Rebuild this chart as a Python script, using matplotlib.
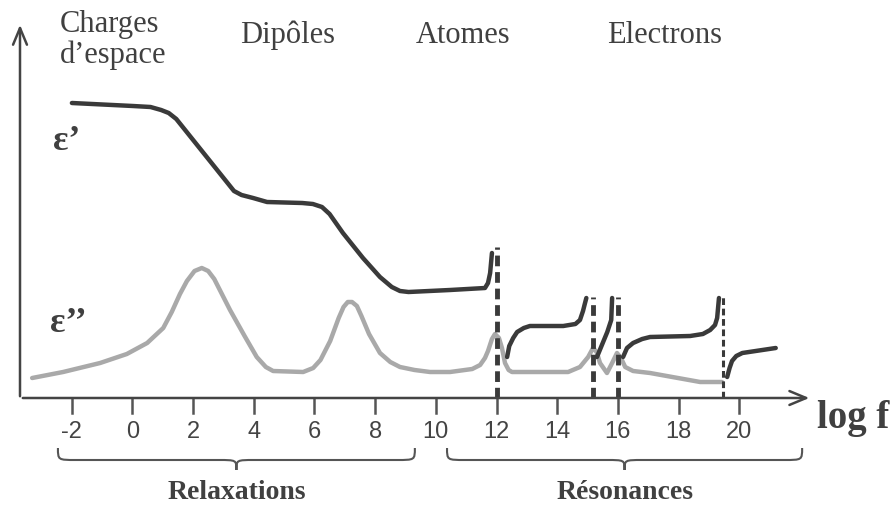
import numpy as np
import matplotlib
matplotlib.use("Agg")
import matplotlib.pyplot as plt
from matplotlib.path import Path
from matplotlib.patches import PathPatch

# eps' (real part), one list per branch
eps1_x = [-1.99, 0.02, 0.6, 0.95, 1.2, 1.45, 3.35, 3.6, 3.98, 4.44, 5.6, 5.95, 6.25, 6.5, 6.94, 7.60,
          8.16, 8.55, 8.82, 9.1, 10.47, 11.62, 11.72, 11.79, 11.85]
eps1_y = [295, 292, 291, 288, 285, 279, 207, 203, 200, 196, 195, 194, 191, 184, 165, 140,
          121, 111, 107, 106, 108, 110, 115, 125, 145]
br2_x = [12.35, 12.42, 12.55, 12.68, 12.9, 13.1, 14.2, 14.6, 14.75, 14.85, 14.9, 14.96]
br2_y = [41, 52, 60, 66, 70, 72, 72, 74, 78, 87, 93, 100]
br3_x = [15.31, 15.5, 15.65, 15.78, 15.81]
br3_y = [41, 55, 66, 78, 100]
br4_x = [16.17, 16.3, 16.5, 16.8, 17.06, 18.38, 18.8, 19.04, 19.2, 19.27, 19.33]
br4_y = [41, 50, 55, 59, 61, 62, 64, 68, 73, 80, 100]
br5_x = [19.6, 19.68, 19.76, 19.9, 20.1, 21.2]
br5_y = [21, 30, 37, 42, 45, 50]

# eps'' (imaginary part)
eps2_x = [-3.30, -2.28, -1.06, -0.18, 0.49, 1.02, 1.3, 1.57, 1.8, 2.05, 2.29, 2.5, 2.7, 3.22, 3.7, 4.1, 4.4, 4.64,
          5.63, 5.96, 6.2, 6.52, 6.8, 6.96, 7.1, 7.24, 7.4, 7.55, 7.8, 8.16, 8.5, 8.82, 9.3, 9.81,
          10.47, 11.2, 11.46, 11.62, 11.72, 11.85, 11.95, 12.08, 12.18, 12.28, 12.4, 12.51,
          14.36, 14.75, 15.02, 15.18, 15.3, 15.41, 15.64, 15.81, 15.97, 16.1, 16.24, 16.5, 17.06, 18.71, 19.43]
eps2_y = [20, 26, 35, 44, 55, 70, 86, 104, 117, 127, 130, 127, 119, 88, 62, 41, 31, 27,
          26, 30, 38, 57, 80, 91, 96, 96, 92, 82, 64, 45, 36, 31, 28, 26,
          26, 29, 33, 40, 47, 59, 64, 60, 50, 35, 28, 26,
          26, 31, 41, 50, 46, 35, 25, 35, 45, 40, 31, 27, 25, 16, 16]

# resonances
res_x = [12.02, 15.18, 16.0, 19.46]
res_top = [151, 101, 101, 101]
res_lw = [3.5, 3.5, 3.5, 2.2]

ticks = [-2, 0, 2, 4, 6, 8, 10, 12, 14, 16, 18, 20]
top_labels = ["Dipôles", "Atomes", "Electrons"]
top_pos = [5.10, 10.9, 17.55]

dark = "#3a3a3a"
gray = "#a9a9a9"
serif = "Liberation Serif"

fig = plt.figure(figsize=(8.95, 5.08), dpi=100)
ax = fig.add_axes([0, 0, 1, 1])
ax.set_xlim(-4.359, 25.13)
ax.set_ylim(-110, 398)
ax.axis("off")

# axes with arrows
ax.annotate("", xy=(22.4, 0), xytext=(-3.70, 0),
            arrowprops=dict(arrowstyle="->,head_length=1.2,head_width=0.5", color="#444444", lw=1.8))
ax.annotate("", xy=(-3.70, 376), xytext=(-3.70, -1),
            arrowprops=dict(arrowstyle="->,head_length=1.2,head_width=0.5", color="#444444", lw=1.8))

for t in ticks:
    ax.plot([t, t], [0, -15], color="#555555", lw=1.8)
    ax.text(t, -34, str(t), ha="center", va="center", fontsize=17,
            family="Liberation Sans", color="#444444")

ax.plot(eps2_x, eps2_y, color=gray, lw=3.2, solid_capstyle="round", solid_joinstyle="round")
for xs, ys in [(eps1_x, eps1_y), (br2_x, br2_y), (br3_x, br3_y), (br4_x, br4_y), (br5_x, br5_y)]:
    ax.plot(xs, ys, color=dark, lw=3.2, solid_capstyle="round", solid_joinstyle="round")

for x, top, lw in zip(res_x, res_top, res_lw):
    ax.plot([x, x], [0, top], color=dark, lw=lw, ls=(0, (2.2, 1.2)))

# texts
ax.text(-2.40, 398 - 32, "Charges", fontsize=22, family=serif, color="#404040", va="baseline")
ax.text(-2.40, 398 - 63, "d\u2019espace", fontsize=22, family=serif, color="#404040", va="baseline")
for lab, x in zip(top_labels, top_pos):
    ax.text(x, 398 - 43, lab, fontsize=22, family=serif, color="#404040", ha="center", va="baseline")

ax.text(-2.60, 398 - 150, "\u03b5\u2019", fontsize=26, family=serif, weight="bold", color="#404040", va="baseline")
ax.text(-2.70, 398 - 332, "\u03b5\u2019\u2019", fontsize=26, family=serif, weight="bold", color="#404040", va="baseline")
ax.text(22.55, 398 - 428, "log f", fontsize=28, family=serif, weight="bold", color="#404040", va="baseline")


def brace(x0, x1, ytop, ybot, ytip, r):
    xm = (x0 + x1) / 2
    verts = [(x0, ytop), (x0, ybot), (x0, ybot), (x0 + r, ybot),
             (xm - r, ybot),
             (xm, ybot), (xm, ybot), (xm, ytip),
             (xm, ybot), (xm, ybot), (xm + r, ybot),
             (x1 - r, ybot),
             (x1, ybot), (x1, ybot), (x1, ytop)]
    codes = [Path.MOVETO, Path.CURVE4, Path.CURVE4, Path.CURVE4,
             Path.LINETO,
             Path.CURVE4, Path.CURVE4, Path.CURVE4,
             Path.CURVE4, Path.CURVE4, Path.CURVE4,
             Path.LINETO,
             Path.CURVE4, Path.CURVE4, Path.CURVE4]
    ax.add_patch(PathPatch(Path(verts, codes), fill=False, ec="#555555", lw=1.5))


brace(-2.45, 9.31, -50, -62, -72, 0.6)
brace(10.37, 22.07, -50, -62, -72, 0.6)
ax.text(3.45, -101, "Relaxations", fontsize=20, family=serif, weight="bold", color="#404040",
        ha="center", va="baseline")
ax.text(16.24, -101, "Résonances", fontsize=20, family=serif, weight="bold", color="#404040",
        ha="center", va="baseline")

fig.savefig("out.png", dpi=100)
